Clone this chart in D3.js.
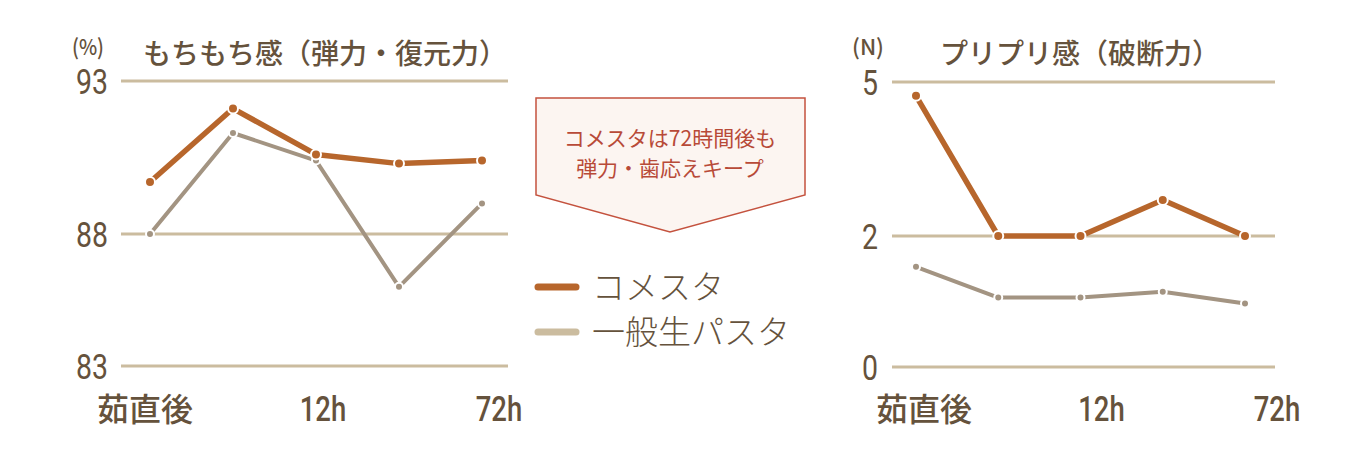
<!DOCTYPE html>
<html>
<head>
<meta charset="utf-8">
<script src="https://cdn.jsdelivr.net/npm/d3@7"></script>
<style>
  body { margin: 0; background: #fff; }
  svg { display: block; }
</style>
</head>
<body>
<svg width="1350" height="450"></svg>
<script>
const categories = ['0h', '6h', '12h', '24h', '72h'];
const tickLabels = ['茹直後', '12h', '72h'];
const tickIndex = [0, 2, 4];
const seriesNames = ['コメスタ', '一般生パスタ'];

const elasticityTicks = [83, 88, 93];
const elasticityComesta = [89.7, 92.1, 90.6, 90.3, 90.4];
const elasticityNormal = [88.0, 91.3, 90.4, 86.0, 89.0];

const breakingTicks = [0, 2, 5];
const breakingComesta = [4.73, 2.0, 2.0, 2.7, 2.0];
const breakingNormal = [1.53, 1.06, 1.06, 1.15, 0.97];

const calloutLines = ['コメスタは72時間後も', '弾力・歯応えキープ'];

window.onload = () => {
  const svg = d3.select('svg');
  const orange = '#b7662c';
  const grey = '#a39482';
  const grid = '#cbbc9f';
  const ink = '#65523c';
  const cjk = '"Noto Sans CJK JP", "Noto Sans", sans-serif';
  const num = 'Roboto, "DejaVu Sans", sans-serif';
  const digitW = 16;

  const charts = [
    {
      title: 'もちもち感（弾力・復元力）', unit: '(%)', titleX: 143, unitX: 72,
      ticks: elasticityTicks, a: elasticityComesta, b: elasticityNormal,
      x: d3.scalePoint().domain(categories).range([150, 482]),
      y: d3.scaleLinear().domain(elasticityTicks).range([366, 234, 81]),
      gridX: [121, 508], tickEnd: 108, labelShift: [-5, 7, 17]
    },
    {
      title: 'プリプリ感（破断力）', unit: '(N)', titleX: 940, unitX: 852,
      ticks: breakingTicks, a: breakingComesta, b: breakingNormal,
      x: d3.scalePoint().domain(categories).range([916, 1245]),
      y: d3.scaleLinear().domain(breakingTicks).range([367, 236, 82]),
      gridX: [892, 1275], tickEnd: 878, labelShift: [8, 21, 32]
    }
  ];

  charts.forEach(c => {
    const g = svg.append('g');

    g.selectAll('.grid')
      .data(c.ticks)
      .enter()
      .append('line')
      .attr('x1', c.gridX[0]).attr('x2', c.gridX[1])
      .attr('y1', d => c.y(d)).attr('y2', d => c.y(d))
      .attr('stroke', grid).attr('stroke-width', 3);

    g.selectAll('.ytick')
      .data(c.ticks)
      .enter()
      .append('text')
      .attr('x', c.tickEnd)
      .attr('y', d => c.y(d) + 13)
      .attr('text-anchor', 'end')
      .attr('font-family', num)
      .attr('font-size', 35)
      .attr('fill', ink)
      .attr('textLength', d => String(d).length * digitW)
      .attr('lengthAdjust', 'spacingAndGlyphs')
      .text(d => d);

    g.selectAll('.xtick')
      .data(tickLabels)
      .enter()
      .append('text')
      .attr('x', (d, i) => c.x(categories[tickIndex[i]]) + c.labelShift[i])
      .attr('y', 421)
      .attr('text-anchor', 'middle')
      .attr('font-family', (d, i) => i === 0 ? cjk : num)
      .attr('font-weight', 500)
      .attr('font-size', (d, i) => i === 0 ? 32 : 35)
      .attr('fill', ink)
      .each(function(d, i) {
        if (i > 0) {
          d3.select(this)
            .attr('textLength', d.length * 15.5)
            .attr('lengthAdjust', 'spacingAndGlyphs');
        }
      })
      .text(d => d);

    g.append('text')
      .attr('x', c.titleX).attr('y', 64)
      .attr('font-family', cjk).attr('font-weight', 500)
      .attr('font-size', 28).attr('fill', ink)
      .text(c.title);

    g.append('text')
      .attr('x', c.unitX).attr('y', 55)
      .attr('font-family', cjk).attr('font-weight', 500)
      .attr('font-size', 22).attr('fill', ink)
      .attr('textLength', 32)
      .attr('lengthAdjust', 'spacingAndGlyphs')
      .text(c.unit);

    const line = d3.line()
      .x((d, i) => c.x(categories[i]))
      .y(d => c.y(d));

    [[c.b, grey, 4], [c.a, orange, 5.5]].forEach(([vals, col, w]) => {
      g.append('path')
        .attr('d', line(vals))
        .attr('fill', 'none')
        .attr('stroke', col)
        .attr('stroke-width', w)
        .attr('stroke-linejoin', 'round');

      g.selectAll(null)
        .data(vals)
        .enter()
        .append('circle')
        .attr('cx', (d, i) => c.x(categories[i]))
        .attr('cy', d => c.y(d))
        .attr('r', w > 5 ? 5 : 4)
        .attr('fill', col)
        .attr('stroke', '#fff')
        .attr('stroke-width', 2);
    });
  });

  // callout arrow box
  const box = [[536, 98], [805, 98], [805, 195], [670, 232], [536, 195]];
  svg.append('path')
    .attr('d', d3.line()(box) + 'Z')
    .attr('fill', '#fcf5f1')
    .attr('stroke', '#c4523e')
    .attr('stroke-width', 1.5);

  svg.selectAll('.callout')
    .data(calloutLines)
    .enter()
    .append('text')
    .attr('x', 670)
    .attr('y', (d, i) => 146 + i * 30)
    .attr('text-anchor', 'middle')
    .attr('font-family', cjk)
    .attr('font-size', 21)
    .attr('fill', '#b84a38')
    .text(d => d);

  // legend
  const legendColors = [orange, '#cbbc9f'];
  const lg = svg.selectAll('.legend')
    .data(seriesNames)
    .enter()
    .append('g')
    .attr('transform', (d, i) => 'translate(0,' + (287 + i * 45) + ')');

  lg.append('line')
    .attr('x1', 538).attr('x2', 576)
    .attr('stroke', (d, i) => legendColors[i])
    .attr('stroke-width', 7)
    .attr('stroke-linecap', 'round');

  lg.append('text')
    .attr('x', 592).attr('y', 12)
    .attr('font-family', cjk)
    .attr('font-weight', 300)
    .attr('font-size', 33)
    .attr('fill', ink)
    .text(d => d);
};
</script>
</body>
</html>
